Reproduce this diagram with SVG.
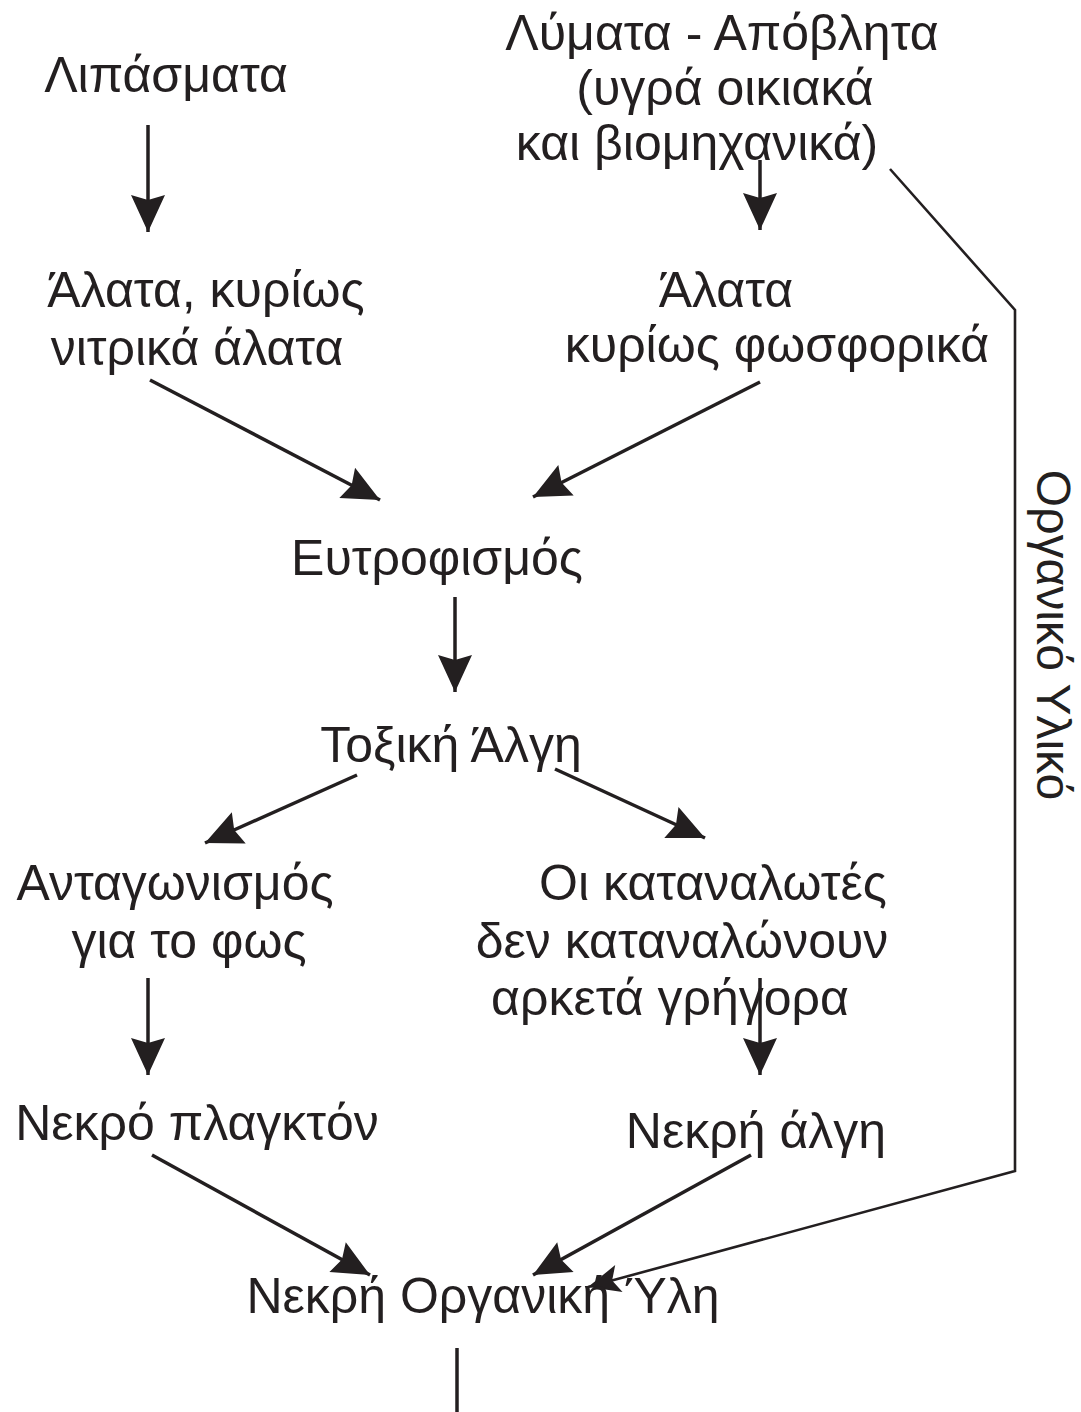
<svg xmlns="http://www.w3.org/2000/svg" width="1081" height="1412" viewBox="0 0 1081 1412">
<style>
text{font-family:"Liberation Sans",Arial,sans-serif;font-size:50px;fill:#231f20;text-anchor:middle}
.c{stroke:#231f20;stroke-width:3.5;fill:none}
.t{stroke:#231f20;stroke-width:2.6;fill:none}
</style>
<defs>
<marker id="ah" viewBox="-38 -18 39 36" refX="0" refY="0" markerWidth="39" markerHeight="36" markerUnits="userSpaceOnUse" orient="auto">
<path d="M0,0 L-37,-17 L-32,0 L-37,17 Z" fill="#231f20"/>
</marker>
<marker id="ah2" viewBox="-33 -16 34 32" refX="0" refY="0" markerWidth="34" markerHeight="32" markerUnits="userSpaceOnUse" orient="auto">
<path d="M0,0 L-32,-14 L-25,0 L-32,14 Z" fill="#231f20"/>
</marker>
</defs>
<rect width="1081" height="1412" fill="#ffffff"/>
<g id="connectors">
<line class="c" x1="148" y1="125" x2="148" y2="232" marker-end="url(#ah)"/>
<line class="c" x1="760" y1="160" x2="760" y2="230" marker-end="url(#ah)"/>
<line class="c" x1="150" y1="380" x2="380" y2="500" marker-end="url(#ah)"/>
<line class="c" x1="760" y1="382" x2="533" y2="497" marker-end="url(#ah)"/>
<line class="c" x1="455" y1="597" x2="455" y2="692" marker-end="url(#ah)"/>
<line class="c" x1="357" y1="775" x2="205" y2="843" marker-end="url(#ah)"/>
<line class="c" x1="555" y1="769" x2="705" y2="838" marker-end="url(#ah)"/>
<line class="c" x1="148" y1="978" x2="148" y2="1075" marker-end="url(#ah)"/>
<line class="c" x1="760" y1="978" x2="760" y2="1075" marker-end="url(#ah)"/>
<line class="c" x1="152" y1="1155" x2="370" y2="1275" marker-end="url(#ah)"/>
<line class="c" x1="751" y1="1155" x2="533" y2="1275" marker-end="url(#ah)"/>
<polyline class="t" points="890,169 1015,310 1015,1171 588,1287" marker-end="url(#ah2)"/>
<line class="c" x1="457" y1="1348" x2="457" y2="1412"/>
</g>
<g id="n1"><text x="166" y="92">Λιπάσματα</text></g>
<g id="n2"><text x="722" y="50">Λύματα - Απόβλητα</text><text x="725" y="105">(υγρά οικιακά</text><text x="697" y="160">και βιομηχανικά)</text></g>
<g id="n3"><text x="206" y="307">Άλατα, κυρίως</text><text x="197" y="365">νιτρικά άλατα</text></g>
<g id="n4"><text x="726" y="307">Άλατα</text><text x="777" y="362">κυρίως φωσφορικά</text></g>
<g id="n5"><text x="437" y="575">Ευτροφισμός</text></g>
<g id="n6"><text x="451" y="762">Τοξική Άλγη</text></g>
<g id="n7"><text x="175" y="900">Ανταγωνισμός</text><text x="189" y="958">για το φως</text></g>
<g id="n8"><text x="713" y="900">Οι καταναλωτές</text><text x="682" y="958">δεν καταναλώνουν</text><text x="670" y="1015">αρκετά γρήγορα</text></g>
<g id="n9"><text x="197" y="1140">Νεκρό πλαγκτόν</text></g>
<g id="n10"><text x="756" y="1148">Νεκρή άλγη</text></g>
<g id="n11"><text x="483" y="1313">Νεκρή Οργανική Ύλη</text></g>
<g id="label"><text transform="translate(1037,635) rotate(90)" style="font-size:48px">Οργανικό Υλικό</text></g>
</svg>
